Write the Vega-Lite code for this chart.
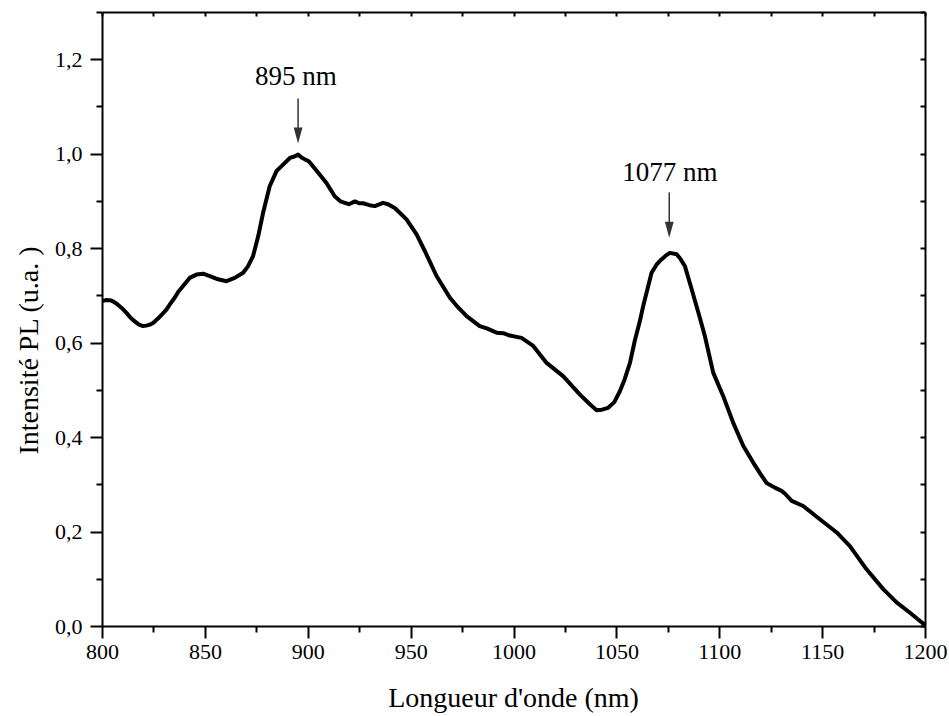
{
  "$schema": "https://vega.github.io/schema/vega-lite/v6.json",
  "width": 823,
  "height": 614,
  "autosize": "none",
  "padding": {"left": 102, "top": 12, "right": 24, "bottom": 90},
  "background": "white",
  "config": {
    "view": {"stroke": null},
    "axis": {
      "grid": false,
      "domainColor": "black",
      "domainWidth": 2,
      "tickColor": "black",
      "tickWidth": 2,
      "labelColor": "black",
      "titleColor": "black",
      "labelFont": "Liberation Serif",
      "titleFont": "Liberation Serif",
      "labelFontSize": 22,
      "titleFontSize": 28,
      "titleFontWeight": "normal"
    }
  },
  "datasets": {
    "spectre": [
      {"lambda": 800, "pl": 0.688}, {"lambda": 802, "pl": 0.690}, {"lambda": 804.6, "pl": 0.689},
      {"lambda": 807, "pl": 0.683}, {"lambda": 809.4, "pl": 0.674}, {"lambda": 811.9, "pl": 0.663},
      {"lambda": 814, "pl": 0.652}, {"lambda": 815.9, "pl": 0.645}, {"lambda": 818, "pl": 0.638},
      {"lambda": 819.9, "pl": 0.635}, {"lambda": 821.5, "pl": 0.636}, {"lambda": 823.2, "pl": 0.638},
      {"lambda": 825, "pl": 0.642}, {"lambda": 827.2, "pl": 0.651}, {"lambda": 829, "pl": 0.659},
      {"lambda": 831.3, "pl": 0.670}, {"lambda": 833, "pl": 0.681}, {"lambda": 835.3, "pl": 0.695},
      {"lambda": 837, "pl": 0.707}, {"lambda": 839.4, "pl": 0.720}, {"lambda": 842.6, "pl": 0.737},
      {"lambda": 845.9, "pl": 0.744}, {"lambda": 849.1, "pl": 0.746}, {"lambda": 852.4, "pl": 0.741},
      {"lambda": 856.4, "pl": 0.734}, {"lambda": 860.5, "pl": 0.730}, {"lambda": 864.5, "pl": 0.737},
      {"lambda": 868.6, "pl": 0.748}, {"lambda": 871, "pl": 0.762}, {"lambda": 873.4, "pl": 0.783},
      {"lambda": 875.9, "pl": 0.825}, {"lambda": 878.3, "pl": 0.875}, {"lambda": 881.5, "pl": 0.931},
      {"lambda": 884.8, "pl": 0.963}, {"lambda": 888.0, "pl": 0.977}, {"lambda": 891.3, "pl": 0.991},
      {"lambda": 893.5, "pl": 0.994}, {"lambda": 895.3, "pl": 0.998}, {"lambda": 897, "pl": 0.992},
      {"lambda": 898.6, "pl": 0.988}, {"lambda": 900.5, "pl": 0.984}, {"lambda": 901.8, "pl": 0.977},
      {"lambda": 905.0, "pl": 0.960}, {"lambda": 909.1, "pl": 0.938}, {"lambda": 913.1, "pl": 0.910},
      {"lambda": 916, "pl": 0.899}, {"lambda": 918, "pl": 0.896}, {"lambda": 920, "pl": 0.893},
      {"lambda": 922.9, "pl": 0.899}, {"lambda": 925, "pl": 0.895}, {"lambda": 926.9, "pl": 0.895},
      {"lambda": 930, "pl": 0.891}, {"lambda": 932.6, "pl": 0.889}, {"lambda": 936.6, "pl": 0.896},
      {"lambda": 939, "pl": 0.893}, {"lambda": 942.3, "pl": 0.885}, {"lambda": 944.7, "pl": 0.875},
      {"lambda": 948, "pl": 0.861}, {"lambda": 952.9, "pl": 0.829}, {"lambda": 956.9, "pl": 0.794},
      {"lambda": 962.6, "pl": 0.741}, {"lambda": 969.1, "pl": 0.695}, {"lambda": 973, "pl": 0.675},
      {"lambda": 977.2, "pl": 0.656}, {"lambda": 983.6, "pl": 0.635}, {"lambda": 987, "pl": 0.630},
      {"lambda": 991.8, "pl": 0.621}, {"lambda": 995, "pl": 0.620}, {"lambda": 998.2, "pl": 0.615},
      {"lambda": 1003.9, "pl": 0.610}, {"lambda": 1009.6, "pl": 0.593}, {"lambda": 1016.1, "pl": 0.557},
      {"lambda": 1024.1, "pl": 0.529}, {"lambda": 1032.3, "pl": 0.490}, {"lambda": 1037, "pl": 0.470},
      {"lambda": 1040.4, "pl": 0.457}, {"lambda": 1043, "pl": 0.458}, {"lambda": 1046, "pl": 0.462},
      {"lambda": 1049, "pl": 0.474}, {"lambda": 1051.7, "pl": 0.497}, {"lambda": 1054, "pl": 0.522},
      {"lambda": 1056.6, "pl": 0.557}, {"lambda": 1059, "pl": 0.605}, {"lambda": 1061.4, "pl": 0.645},
      {"lambda": 1063, "pl": 0.677}, {"lambda": 1067.1, "pl": 0.748}, {"lambda": 1069.5, "pl": 0.765},
      {"lambda": 1071.9, "pl": 0.776}, {"lambda": 1074, "pl": 0.784}, {"lambda": 1076, "pl": 0.790},
      {"lambda": 1079.3, "pl": 0.787}, {"lambda": 1081, "pl": 0.778}, {"lambda": 1083.3, "pl": 0.762},
      {"lambda": 1086.6, "pl": 0.713}, {"lambda": 1090.6, "pl": 0.652}, {"lambda": 1093, "pl": 0.614},
      {"lambda": 1097.1, "pl": 0.536}, {"lambda": 1101.9, "pl": 0.487}, {"lambda": 1106.8, "pl": 0.430},
      {"lambda": 1111.7, "pl": 0.381}, {"lambda": 1116.5, "pl": 0.346}, {"lambda": 1120, "pl": 0.322},
      {"lambda": 1123, "pl": 0.303}, {"lambda": 1127, "pl": 0.293}, {"lambda": 1130.3, "pl": 0.286},
      {"lambda": 1132, "pl": 0.280}, {"lambda": 1135.2, "pl": 0.265}, {"lambda": 1140.8, "pl": 0.254},
      {"lambda": 1148.9, "pl": 0.226}, {"lambda": 1157.1, "pl": 0.198}, {"lambda": 1163.5, "pl": 0.169},
      {"lambda": 1171.6, "pl": 0.120}, {"lambda": 1179.7, "pl": 0.078}, {"lambda": 1186.2, "pl": 0.050},
      {"lambda": 1192.7, "pl": 0.028}, {"lambda": 1200, "pl": 0.002}
    ],
    "pics": [
      {"lambda": 895.3, "label": "895 nm", "xtext": 894.2, "ytext": 1.146, "ytop": 1.117, "ybottom": 1.045, "yhead": 1.0385},
      {"lambda": 1075.7, "label": "1077 nm", "xtext": 1076.0, "ytext": 0.943, "ytop": 0.918, "ybottom": 0.846, "yhead": 0.839}
    ]
  },
  "resolve": {"axis": {"x": "independent", "y": "independent"}},
  "layer": [
    {
      "data": {"name": "spectre"},
      "mark": {"type": "line", "color": "black", "strokeWidth": 4, "strokeJoin": "round", "strokeCap": "round", "clip": true},
      "encoding": {
        "x": {
          "field": "lambda", "type": "quantitative",
          "scale": {"domain": [800, 1200], "nice": false, "zero": false},
          "axis": {
            "orient": "bottom",
            "title": "Longueur d'onde (nm)",
            "values": [800, 850, 900, 950, 1000, 1050, 1100, 1150, 1200],
            "format": "d",
            "tickSize": 12,
            "labelPadding": 3,
            "labelFlush": false,
            "labelOverlap": false,
            "titleX": 411,
            "titleY": 80,
            "titleBaseline": "alphabetic",
            "titleAlign": "center"
          }
        },
        "y": {
          "field": "pl", "type": "quantitative",
          "scale": {"domain": [0, 1.3], "nice": false},
          "axis": {
            "orient": "left",
            "title": "Intensité PL (u.a. )",
            "values": [0, 0.2, 0.4, 0.6, 0.8, 1.0, 1.2],
            "labelExpr": "replace(format(datum.value, '.1f'), '.', ',')",
            "tickSize": 12,
            "labelPadding": 8,
            "labelFlush": false,
            "labelOverlap": false,
            "titleAngle": -90,
            "titleX": -65,
            "titleY": 338,
            "titleBaseline": "alphabetic",
            "titleAlign": "center"
          }
        }
      }
    },
    {
      "data": {"name": "pics"},
      "mark": {"type": "rule", "color": "#333333", "strokeWidth": 1.5},
      "encoding": {
        "x": {
          "field": "lambda", "type": "quantitative",
          "axis": {
            "orient": "top", "title": null, "labels": false,
            "values": [800, 825, 850, 875, 900, 925, 950, 975, 1000, 1025, 1050, 1075, 1100, 1125, 1150, 1175, 1200],
            "tickSize": -4
          }
        },
        "y": {
          "field": "ytop", "type": "quantitative",
          "axis": {
            "orient": "right", "title": null, "labels": false,
            "values": [0, 0.1, 0.2, 0.3, 0.4, 0.5, 0.6, 0.7, 0.8, 0.9, 1.0, 1.1, 1.2, 1.3],
            "tickSize": -5
          }
        },
        "y2": {"field": "ybottom"}
      }
    },
    {
      "data": {"name": "pics"},
      "mark": {"type": "point", "shape": "M-0.55,-1L0.55,-1L0,1Z", "filled": true, "size": 256, "color": "#333333", "opacity": 1, "strokeWidth": 0},
      "encoding": {
        "x": {
          "field": "lambda", "type": "quantitative",
          "axis": {
            "orient": "bottom", "title": null, "labels": false, "domain": false,
            "values": [825, 875, 925, 975, 1025, 1075, 1125, 1175],
            "tickSize": 6
          }
        },
        "y": {
          "field": "yhead", "type": "quantitative",
          "axis": {
            "orient": "left", "title": null, "labels": false, "domain": false,
            "values": [0.1, 0.3, 0.5, 0.7, 0.9, 1.1, 1.3],
            "tickSize": 6
          }
        }
      }
    },
    {
      "data": {"name": "pics"},
      "mark": {"type": "text", "font": "Liberation Serif", "fontSize": 27, "color": "black", "align": "center", "baseline": "alphabetic"},
      "encoding": {
        "x": {"field": "xtext", "type": "quantitative", "axis": null},
        "y": {"field": "ytext", "type": "quantitative", "axis": null},
        "text": {"field": "label"}
      }
    }
  ]
}
